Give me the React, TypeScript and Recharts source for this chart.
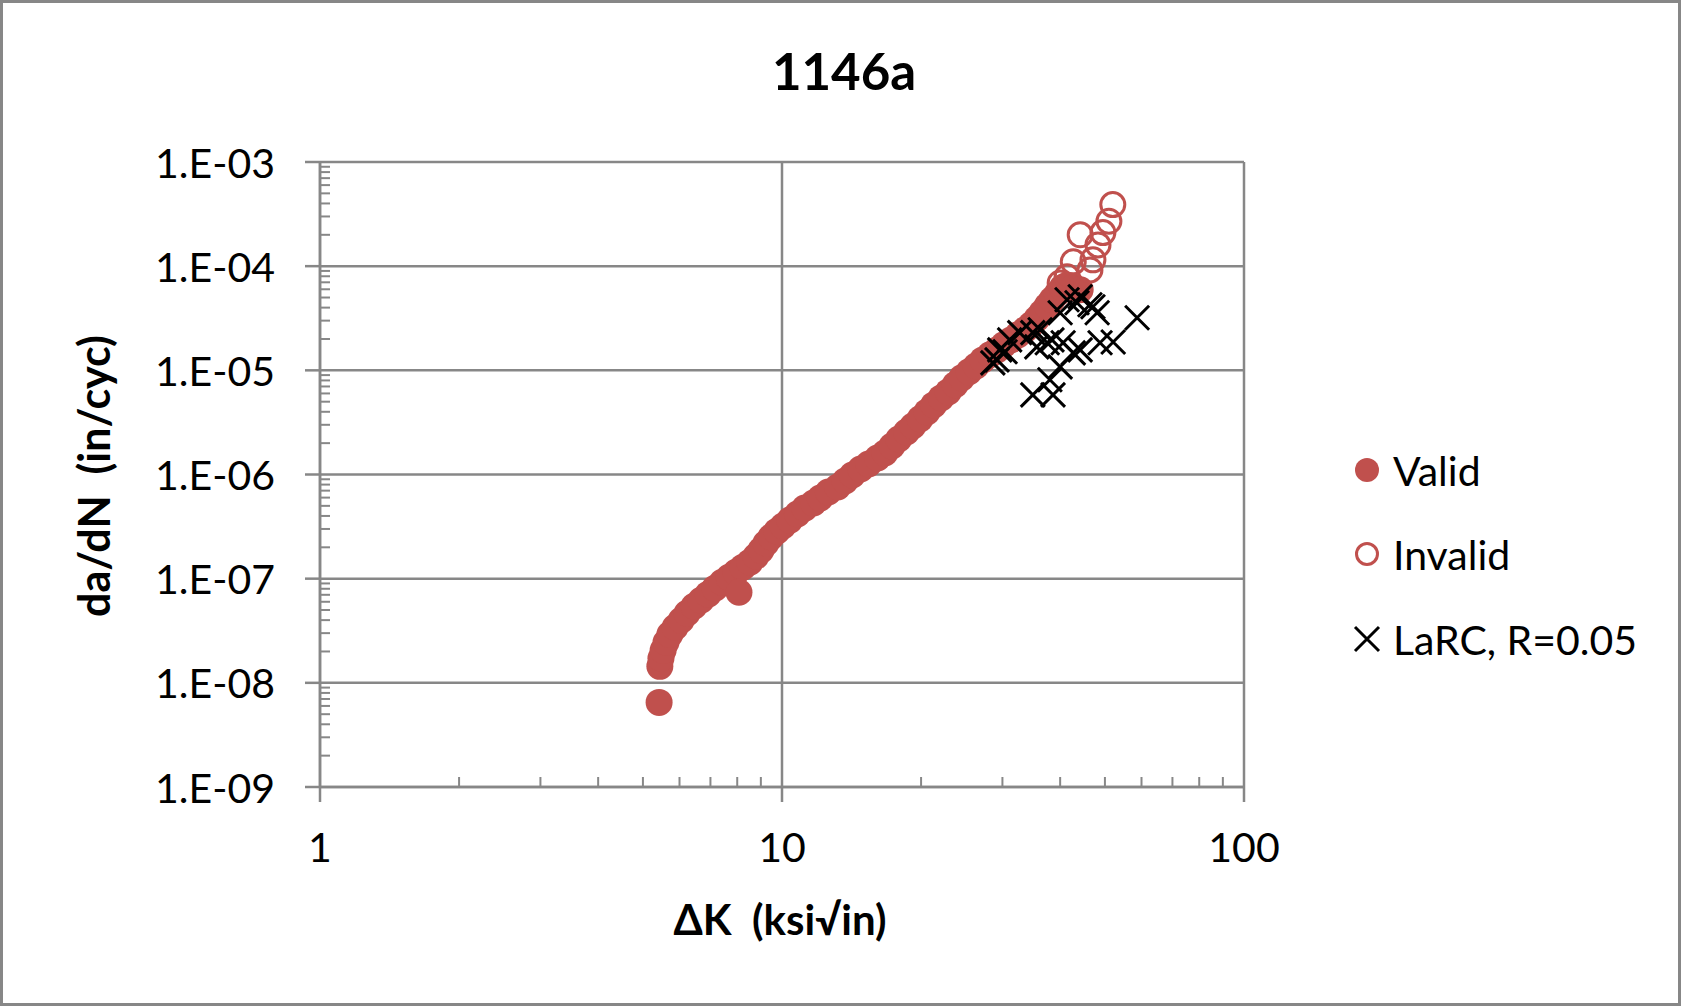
import React from 'react'
import { ScatterChart, Scatter, XAxis, YAxis, CartesianGrid } from 'recharts'

// ΔK (ksi√in) and da/dN (in/cyc)
const validDK = [
  5.42, 5.44, 5.47, 5.53, 5.61, 5.72, 5.87, 6.05, 6.23, 6.45,
  6.68, 6.92, 7.16, 7.42, 7.68, 7.95, 8.23, 8.07, 8.52, 8.78,
  9.01, 9.23, 9.47, 9.75, 10.05, 10.4, 10.8, 11.2, 11.7, 12.1,
  12.6, 13.2, 13.7, 14.2, 14.8, 15.4, 16.1, 16.7, 17.3, 17.9,
  18.6, 19.2, 19.9, 20.6, 21.3, 22.1, 22.9, 23.7, 24.5, 25.4,
  26.3, 27.2, 28.2, 29.2, 30.2, 31.3, 32.4, 33.6, 34.6, 35.6,
  36.5, 37.5, 38.4, 39.4, 40.4, 41.2, 42.7, 44.2,
]
const validRate = [
  6.49e-9, 1.44e-8, 1.72e-8, 2.05e-8, 2.45e-8, 2.92e-8, 3.42e-8, 3.99e-8, 4.66e-8, 5.44e-8,
  6.21e-8, 7.1e-8, 8.11e-8, 9.25e-8, 1.03e-7, 1.15e-7, 1.29e-7, 7.41e-8, 1.44e-7, 1.64e-7,
  1.88e-7, 2.19e-7, 2.51e-7, 2.86e-7, 3.2e-7, 3.65e-7, 4.17e-7, 4.76e-7, 5.32e-7, 5.94e-7,
  6.79e-7, 7.59e-7, 8.65e-7, 9.89e-7, 1.13e-6, 1.26e-6, 1.44e-6, 1.61e-6, 1.88e-6, 2.19e-6,
  2.56e-6, 2.92e-6, 3.42e-6, 3.99e-6, 4.66e-6, 5.44e-6, 6.21e-6, 7.26e-6, 8.47e-6, 9.68e-6,
  1.1e-5, 1.26e-5, 1.41e-5, 1.57e-5, 1.76e-5, 1.96e-5, 2.19e-5, 2.45e-5, 2.74e-5, 3.13e-5,
  3.57e-5, 4.17e-5, 4.76e-5, 5.44e-5, 6.21e-5, 6.49e-5, 6.21e-5, 5.94e-5,
]

const invalidDK = [40.0, 41.4, 42.7, 44.2, 46.4, 47.1, 48.3, 49.5, 51.0, 52.0]
const invalidRate = [6.9e-5, 7.9e-5, 1.1e-4, 2.0e-4, 9.2e-5, 1.15e-4, 1.6e-4, 2.1e-4, 2.7e-4, 3.9e-4]

const larcDK = [
  28.6, 29.2, 29.6, 30.4, 31.1, 32.7, 34.9, 35.6, 36.2, 37.5,
  38.4, 40.6, 42.7, 44.2, 48.8, 52.1, 58.7, 40.0, 38.0, 34.9,
  38.6, 41.4, 44.2, 47.1, 48.1, 40.0, 46.4, 43.5,
]
const larcRate = [
  1.18e-5, 1.26e-5, 1.57e-5, 1.51e-5, 1.96e-5, 2.3e-5, 2.3e-5, 1.68e-5, 2.45e-5, 1.84e-5,
  1.96e-5, 1.84e-5, 1.47e-5, 1.57e-5, 1.84e-5, 1.87e-5, 3.2e-5, 1.08e-5, 8.11e-6, 5.81e-6,
  5.81e-6, 4.76e-5, 5.09e-5, 4.08e-5, 3.57e-5, 3.57e-5, 4.26e-5, 4.45e-5,
]

const xMajorTicks = [1, 10, 100]
const xTickLabels = ['1', '10', '100']
const xMinorTicks = [2, 3, 4, 5, 6, 7, 8, 9, 20, 30, 40, 50, 60, 70, 80, 90]
const yMajorTicks = [1e-9, 1e-8, 1e-7, 1e-6, 1e-5, 1e-4, 1e-3]
const yTickLabels = ['1.E-09', '1.E-08', '1.E-07', '1.E-06', '1.E-05', '1.E-04', '1.E-03']
const minorSteps = [2, 3, 4, 5, 6, 7, 8, 9]
const yMinorTicks = yMajorTicks.slice(0, -1).flatMap((d) => minorSteps.map((m) => m * d))

const toPoints = (xs: number[], ys: number[]) => xs.map((dk, i) => ({ dk, rate: ys[i] }))
const validData = toPoints(validDK, validRate)
const invalidData = toPoints(invalidDK, invalidRate)
const larcData = toPoints(larcDK, larcRate)

const GRID = '#878787'
const RED = '#C0504D'
const FONT = 'Lato, "Open Sans", sans-serif'

function YTick(props: any) {
  const { x, y, payload } = props
  const i = yMajorTicks.indexOf(payload.value)
  if (i < 0) return <line x1={x} x2={x + 10} y1={y} y2={y} stroke={GRID} strokeWidth={2} />
  return (
    <g>
      <line x1={x - 15} x2={x} y1={y} y2={y} stroke={GRID} strokeWidth={2.5} />
      <text x={x - 45} y={y} textAnchor="end" dominantBaseline="central" fontFamily={FONT} fontSize={41} fill="#000">
        {yTickLabels[i]}
      </text>
    </g>
  )
}

function XTick(props: any) {
  const { x, y, payload } = props
  const i = xMajorTicks.indexOf(payload.value)
  if (i < 0) return <line x1={x} x2={x} y1={y} y2={y - 10} stroke={GRID} strokeWidth={2} />
  return (
    <g>
      <line x1={x} x2={x} y1={y} y2={y + 15} stroke={GRID} strokeWidth={2.5} />
      <text x={x} y={y + 59} textAnchor="middle" dominantBaseline="central" fontFamily={FONT} fontSize={41} fill="#000">
        {xTickLabels[i]}
      </text>
    </g>
  )
}

const ValidDot = (p: any) => <circle cx={p.cx} cy={p.cy} r={13.5} fill={RED} />
const InvalidDot = (p: any) => <circle cx={p.cx} cy={p.cy} r={12} fill="none" stroke={RED} strokeWidth={3} />
const Cross = (p: any) => (
  <path
    d={`M${p.cx - 12},${p.cy - 12}L${p.cx + 12},${p.cy + 12}M${p.cx - 12},${p.cy + 12}L${p.cx + 12},${p.cy - 12}`}
    stroke="#000"
    strokeWidth={3}
    fill="none"
  />
)

const legendRows = [
  { name: 'Valid', icon: <circle cx={14} cy={14} r={12} fill={RED} /> },
  { name: 'Invalid', icon: <circle cx={14} cy={14} r={10.5} fill="none" stroke={RED} strokeWidth={3} /> },
  { name: 'LaRC, R=0.05', icon: <path d="M2,2L26,26M2,26L26,2" stroke="#000" strokeWidth={3} /> },
]
const legendTops = [470, 554, 639]

export default function App() {
  return (
    <div style={{ position: 'absolute', left: 0, top: 0, width: 1681, height: 1006, background: '#fff', fontFamily: FONT }}>
      <div style={{ position: 'absolute', left: 0, top: 0 }}>
        <ScatterChart width={1681} height={1006} margin={{ top: 162, right: 437, bottom: 0, left: 0 }}>
          <CartesianGrid
            stroke={GRID}
            strokeWidth={2.5}
            horizontalValues={yMajorTicks}
            verticalValues={xMajorTicks}
          />
          <XAxis
            type="number"
            dataKey="dk"
            scale="log"
            domain={[1, 100]}
            allowDataOverflow
            ticks={[...xMajorTicks, ...xMinorTicks]}
            interval={0}
            height={219}
            tickSize={0}
            tickMargin={0}
            tickLine={false}
            axisLine={{ stroke: GRID, strokeWidth: 2.5 }}
            tick={<XTick />}
          />
          <YAxis
            type="number"
            dataKey="rate"
            scale="log"
            domain={[1e-9, 1e-3]}
            allowDataOverflow
            ticks={[...yMajorTicks, ...yMinorTicks]}
            interval={0}
            width={320}
            tickSize={0}
            tickMargin={0}
            tickLine={false}
            axisLine={{ stroke: GRID, strokeWidth: 2.5 }}
            tick={<YTick />}
          />
          <Scatter name="Valid" data={validData} shape={ValidDot} isAnimationActive={false} />
          <Scatter name="Invalid" data={invalidData} shape={InvalidDot} isAnimationActive={false} />
          <Scatter name="LaRC, R=0.05" data={larcData} shape={Cross} isAnimationActive={false} />
        </ScatterChart>
      </div>

      <div style={{ position: 'absolute', left: 0, top: 0, width: 1681, height: 1006, border: `3px solid ${GRID}`, boxSizing: 'border-box', pointerEvents: 'none' }} />

      <div style={{ position: 'absolute', left: 644, width: 400, top: 41, textAlign: 'center', fontSize: 51, fontWeight: 700, lineHeight: '60px' }}>
        1146a
      </div>

      <div style={{ position: 'absolute', left: 580, width: 400, top: 895, textAlign: 'center', fontSize: 42, fontWeight: 700, lineHeight: '48px', whiteSpace: 'pre' }}>
        {'ΔK  (ksi√in)'}
      </div>

      <div
        style={{
          position: 'absolute',
          left: 94 - 250,
          top: 476 - 24,
          width: 500,
          textAlign: 'center',
          fontSize: 43,
          fontWeight: 700,
          lineHeight: '48px',
          whiteSpace: 'pre',
          transform: 'rotate(-90deg)',
        }}
      >
        {'da/dN  (in/cyc)'}
      </div>

      {legendRows.map((row, i) => (
        <div key={row.name} style={{ position: 'absolute', left: 1353, top: legendTops[i] - 25, height: 50, display: 'flex', alignItems: 'center', fontSize: 41, whiteSpace: 'pre' }}>
          <svg width={28} height={28} style={{ marginRight: 12 }}>
            {row.icon}
          </svg>
          {row.name}
        </div>
      ))}
    </div>
  )
}
